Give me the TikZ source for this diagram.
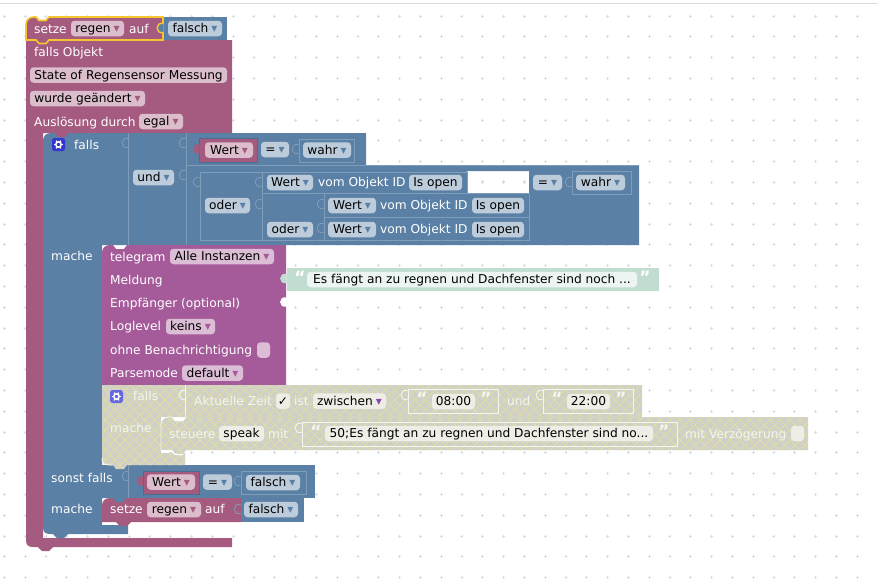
\documentclass[tikz,border=0pt]{standalone}
\usepackage{fontspec}
\setmainfont{DejaVu Sans}
\definecolor{bblue}{HTML}{5B80A5}
\definecolor{bline}{HTML}{7F9CB9}
\definecolor{bdark}{HTML}{4A6C8E}
\definecolor{bpink}{HTML}{A55B80}
\definecolor{bmag}{HTML}{A55B99}
\definecolor{fblue}{HTML}{BDCCDB}
\definecolor{fpink}{HTML}{DBBDCC}
\definecolor{fmag}{HTML}{DBBDD6}
\definecolor{bgreen}{HTML}{C0DDD0}
\definecolor{fgreen}{HTML}{ECF5F1}
\definecolor{hbase}{HTML}{D0D0C8}
\definecolor{hline}{HTML}{E2DF9E}
\definecolor{fdis}{HTML}{EEEEE6}
\definecolor{ltxt}{HTML}{F6F6F0}
\definecolor{gold}{HTML}{F5C52F}
\definecolor{gearb}{HTML}{3438D0}
\definecolor{gridc}{HTML}{DDDDDD}
\newcommand\arw[1]{\hspace{3pt}\textcolor{#1}{\fontsize{12}{12}\selectfont ▾}}
\newcommand\fld[6]{%
 \pgfmathsetmacro\fw{#4-#3}\pgfmathsetmacro\fx{(#3+#4)/2}%
 \node[#1,minimum width=\fw pt] (#2) at (\fx,#5) {#6};}
\newcommand\ptab[3]{\path[#1] (#2-0.5,#3-5.5) .. controls (#2-9,#3-7.5) and (#2-9,#3+5.5) .. (#2-0.5,#3+3.5);}
\newcommand\gearic[3]{%
 \node[gearbox,fill=#3] (#1) at #2 {};
 \draw[white,line width=1.5pt] (#1) circle (2.7pt);
 \foreach \ga in {0,60,...,300}{\draw[white,line width=1.3pt] (#1.center) ++(\ga:2.7pt) -- ++(\ga:1.8pt);}}
\tikzset{x=1pt,y=-1pt,
 lbl/.style={font=\fontsize{12.2}{14}\selectfont,text=white,anchor=west,inner sep=0pt,text height=10pt,text depth=2pt},
 dlbl/.style={lbl,text=ltxt},
 fbase/.style={font=\fontsize{12.2}{14}\selectfont,text=black,rounded corners=3.5pt,inner sep=0pt,minimum height=15.5pt,text height=10pt,text depth=2pt},
 fb/.style={fbase,fill=fblue},
 fp/.style={fbase,fill=fpink},
 fm/.style={fbase,fill=fmag},
 fg/.style={fbase,fill=fgreen},
 fd/.style={fbase,fill=fdis},
 gearbox/.style={draw=none,rounded corners=2.5pt,minimum size=13pt,inner sep=0pt},
 ln/.style={draw=bline,line width=0.8pt},
 lw/.style={draw=ltxt,line width=0.9pt},
 qt/.style={font=\bfseries\fontsize{17}{17}\selectfont,inner sep=0pt,text height=9pt,text depth=0pt},
}
\begin{document}
\begin{tikzpicture}
\path[use as bounding box] (0,0) rectangle (878,587);
\fill[white] (0,0) rectangle (878,587);
\draw[gridc,line width=1pt] (0,3.5) -- (878,3.5);
% grid dots
\foreach \yy in {0,...,27}{
 \foreach \xx in {0,...,41}{
  \path[draw=gridc,line width=0.7pt] ({4.3+20.8*\xx-1.5},{16+20.8*\yy}) -- ++(3,0) ({4.3+20.8*\xx},{16+20.8*\yy-1.5}) -- ++(0,3);
 }}
% big pink block
\fill[bpink] (26,40) -- (232,40) -- (232,133) -- (43,133) -- (43,538) -- (232,538) -- (232,547) -- (53,547) -- (49,551) -- (42,551) -- (38,547) -- (33,547) .. controls (28,547) and (26,545) .. (26,540) -- cycle;
% blue falls block
\fill[bblue] (43,141) .. controls (43,136) and (46,133) .. (51,133) -- (128,133) -- (128,245) -- (102,245) -- (102,465) -- (128,465) -- (128,498) -- (102,498) -- (102,525) -- (128,525) -- (128,534) -- (68,534) -- (64,538) -- (57,538) -- (53,534) -- (50,534) .. controls (45,534) and (43,532) .. (43,527) -- cycle;
\fill[bpink] (55,133) -- (58,137) -- (65,137) -- (68,133) -- cycle;
% und block
\fill[bblue,even odd rule] (128,133) -- (366,133) -- (366,165) -- (639,165) -- (639,245) -- (128,245) -- cycle (467,171) rectangle (529,193.5);
\path[draw=gridc,line width=0.7pt] (481,181) -- ++(3,0) (482.5,179.5) -- ++(0,3) (502,181) -- ++(3,0) (503.5,179.5) -- ++(0,3) (522.5,181) -- ++(3,0) (524,179.5) -- ++(0,3);
\draw[ln] (128.5,133) -- (128.5,245) (186,133) -- (186,245) (186,165.5) -- (639,165.5);
\ptab{ln}{129}{144}
\ptab{ln}{186}{144}
\ptab{ln}{186}{176}
% Wert = wahr
\draw[ln,draw=bdark,fill=bpink] (199.5,138.5) rectangle (257,162);
\ptab{fill=bpink}{200}{150}
\fld{fp}{f1}{205}{253}{150}{Wert\arw{bpink}}
\fld{fb}{f2}{261}{289}{149.5}{=\arw{bblue}}
\ptab{ln}{299}{150}
\draw[ln] (299.5,139) rectangle (354,162);
\fld{fb}{f3}{303}{351}{150}{wahr\arw{bblue}}
\fld{fb}{f4}{133}{174}{177.5}{und\arw{bblue}}
% oder nest
\draw[ln] (200,172) -- (467,172) (200,172) -- (200,240) -- (529,240) -- (529,193.5) -- (262,193.5) (467,172) -- (467,193.5) (262,172) -- (262,240) (324,193.5) -- (324,240) (324,217) -- (529,217);
\ptab{ln}{200}{183}
\ptab{ln}{262}{183}
\ptab{ln}{262}{205}
\ptab{ln}{324}{205}
\ptab{ln}{324}{229}
\ptab{ln}{572}{183}
\draw[ln] (572.5,171) rectangle (631,194);
\fld{fb}{f5}{205}{250}{205.5}{oder\arw{bblue}}
\fld{fb}{f6}{267}{313}{182.5}{Wert\arw{bblue}}
\node[lbl] (t1) at (318,182.5) {vom Objekt ID};
\fld{fb}{f7}{409}{462}{182.5}{Is open}
\fld{fb}{f8}{533}{562}{182.5}{=\arw{bblue}}
\fld{fb}{f9}{576}{625}{182.5}{wahr\arw{bblue}}
\fld{fb}{f10}{328}{376}{205.5}{Wert\arw{bblue}}
\node[lbl] (t2) at (380,205.5) {vom Objekt ID};
\fld{fb}{f11}{472}{524}{205.5}{Is open}
\fld{fb}{f12}{267}{313}{229.5}{oder\arw{bblue}}
\fld{fb}{f13}{328}{376}{229.5}{Wert\arw{bblue}}
\node[lbl] (t3) at (380,229.5) {vom Objekt ID};
\fld{fb}{f14}{472}{524}{229.5}{Is open}
% sonst falls row
\fill[bblue] (128,465) rectangle (315,498);
\draw[ln] (128.5,465) -- (128.5,498);
\ptab{ln}{129}{477}
\draw[ln,draw=bdark,fill=bpink] (143,471) rectangle (199,494);
\ptab{fill=bpink}{143.5}{482}
\fld{fp}{f15}{147}{195}{482}{Wert\arw{bpink}}
\fld{fb}{f16}{203}{232}{482}{=\arw{bblue}}
\ptab{ln}{241}{482}
\draw[ln] (241.5,471) rectangle (306,494);
\fld{fb}{f17}{246}{300}{482.5}{falsch\arw{bblue}}
% setze regen (inner)
\fill[bblue] (241,498) rectangle (304,522);
\fill[bpink] (102,506) .. controls (102,501) and (105,498) .. (110,498) -- (241,498) -- (241,522) -- (131,522) -- (127,526) -- (120,526) -- (116,522) -- (102,522) -- cycle;
\fill[bblue] (113,498) -- (116,502) -- (123,502) -- (126,498) -- cycle;
\ptab{draw=bline,line width=0.8pt,fill=bpink}{241}{510}
\node[lbl] (t4) at (110,509.5) {setze};
\fld{fp}{f18}{147}{201}{509.5}{regen\arw{bpink}}
\node[lbl] (t5) at (205,509.5) {auf};
\fld{fb}{f19}{244}{298}{509.5}{falsch\arw{bblue}}
% text block
\fill[bgreen] (287,268) rectangle (659,291);
% telegram block
\fill[bmag] (102,253) .. controls (102,248) and (105,245) .. (110,245) -- (113,245) -- (116,249) -- (124,249) -- (127,245) -- (286,245) -- (286,385) -- (127,385) -- (124,389) -- (116,389) -- (113,385) -- (102,385) -- cycle;
\ptab{fill=bgreen}{287}{279.5}
\ptab{fill=white}{287}{303}
\node[lbl] (t6) at (110,257) {telegram};
\fld{fm}{f20}{170}{274}{256.5}{Alle Instanzen\arw{bmag}}
\node[lbl] (t7) at (110,280) {Meldung};
\node[lbl] (t8) at (110,303) {Empfänger (optional)};
\node[lbl] (t9) at (110,326.5) {Loglevel};
\fld{fm}{f21}{166}{215}{326.5}{keins\arw{bmag}}
\node[lbl] (t10) at (110,350) {ohne Benachrichtigung};
\fld{fm}{f22}{257}{270}{350}{}
\node[lbl] (t11) at (110,373) {Parsemode};
\fld{fm}{f23}{182}{243}{373}{default\arw{bmag}}
\node[qt,text=white] (q1) at (300,279) {“};
\fld{fg}{f24}{307}{637}{279.5}{Es fängt an zu regnen und Dachfenster sind noch ...}
\node[qt,text=white] (q2) at (645,279) {”};
% disabled falls
\begin{scope}
\clip (102,385) -- (642,385) -- (642,417) -- (161,417) -- (161,453) -- (185,453) -- (185,465) -- (127,465) -- (124,469) -- (116,469) -- (113,465) -- (109,465) .. controls (104,465) and (102,463) .. (102,458) -- cycle;
\fill[hbase] (100,380) rectangle (650,470);
\foreach \k in {0,10,...,630}{\draw[hline,line width=0.7pt] ({20+\k},385) -- ++(85,85) ({120+\k},385) -- ++(-85,85);}
\end{scope}
\draw[lw] (185,385) -- (185,417);
\draw[lw] (102,458) .. controls (102,463) and (104,465) .. (109,465) -- (113,465);
\gearic{g2}{(116.5,396.5)}{gearb!75!white}
\node[dlbl] (t12) at (133,396.5) {falls};
\node[dlbl] (t13) at (110,428) {mache};
\ptab{lw}{186}{396}
\node[dlbl] (t14) at (194,401) {Aktuelle Zeit};
\fld{fd}{f25}{276}{290}{401}{✓}
\node[dlbl] (t15) at (294,401) {ist};
\fld{fd}{f26}{313}{386}{401}{zwischen\arw{bmag!80!blue}}
\ptab{lw}{408}{396}
\draw[lw] (408,389.5) rectangle (498,413);
\node[qt,text=ltxt] (q3) at (422,400) {“};
\fld{fd}{f27}{432}{475}{401.5}{08:00}
\node[qt,text=ltxt] (q4) at (486,400) {”};
\node[dlbl] (t16) at (507,401) {und};
\ptab{lw}{543}{396}
\draw[lw] (543,389.5) rectangle (633,413);
\node[qt,text=ltxt] (q5) at (557,400) {“};
\fld{fd}{f28}{567}{610}{401.5}{22:00}
\node[qt,text=ltxt] (q6) at (621,400) {”};
% steuere block
\begin{scope}
\clip (161,425) .. controls (161,420) and (164,417) .. (169,417) -- (172,417) -- (175,421) -- (183,421) -- (186,417) -- (808,417) -- (808,450) -- (186,450) -- (183,454) -- (175,454) -- (172,450) -- (161,450) -- cycle;
\fill[hbase] (155,410) rectangle (815,460);
\foreach \k in {0,10,...,700}{\draw[hline,line width=0.7pt] ({110+\k},410) -- ++(50,50) ({160+\k},410) -- ++(-50,50);}
\end{scope}
\draw[lw] (161,450) -- (161,425) .. controls (161,420) and (164,417) .. (169,417) -- (172,417) -- (175,421) -- (183,421) -- (186,417);
\draw[draw=white,line width=1.2pt] (161,450.5) -- (172,451) -- (175,454.5) -- (183,454.5);
\node[dlbl] (t17) at (169,434) {steuere};
\fld{fd}{f29}{219}{264}{433.5}{speak}
\node[dlbl] (t18) at (268,434) {mit};
\ptab{lw}{302}{429}
\draw[lw] (302,422) rectangle (677,446);
\node[qt,text=ltxt] (q7) at (316,433) {“};
\fld{fd}{f30}{325}{653}{433.5}{50;Es fängt an zu regnen und Dachfenster sind no...}
\node[qt,text=ltxt] (q8) at (664,433) {”};
\node[dlbl] (t19) at (685,434) {mit Verzögerung};
\fld{fd}{f31}{791}{804}{433.5}{}
% top block
\fill[bblue] (163,17) rectangle (227,40);
\fld{fb}{f32}{168}{222}{28.5}{falsch\arw{bblue}}
\filldraw[fill=bpink,draw=gold,line width=1.6pt] (26,25) .. controls (26,20) and (29,17) .. (34,17) -- (36,17) -- (39,20.5) -- (46,20.5) -- (49,17) -- (163,17) -- (163,40) -- (49,40) -- (46,43.5) -- (39,43.5) -- (36,40) -- (26,40) -- cycle;
\ptab{draw=gold,line width=1.4pt,fill=bblue}{164}{29}
\node[lbl] (t20) at (34,29) {setze};
\fld{fp}{f33}{71}{124}{28.5}{regen\arw{bpink}}
\node[lbl] (t21) at (129,29) {auf};
\node[lbl] (t22) at (34,52) {falls Objekt};
\fld{fp}{f34}{30}{227}{75}{State of Regensensor Messung}
\fld{fp}{f35}{30}{145}{98.5}{wurde geändert\arw{bpink}}
\node[lbl] (t23) at (34,122) {Auslösung durch};
\fld{fp}{f36}{139}{183}{121.5}{egal\arw{bpink}}
% blue labels
\gearic{g1}{(58.5,144.5)}{gearb}
\node[lbl] (t24) at (74,145) {falls};
\node[lbl] (t25) at (51,256) {mache};
\node[lbl] (t26) at (51,478) {sonst falls};
\node[lbl] (t27) at (51,509) {mache};
\end{tikzpicture}
\end{document}
